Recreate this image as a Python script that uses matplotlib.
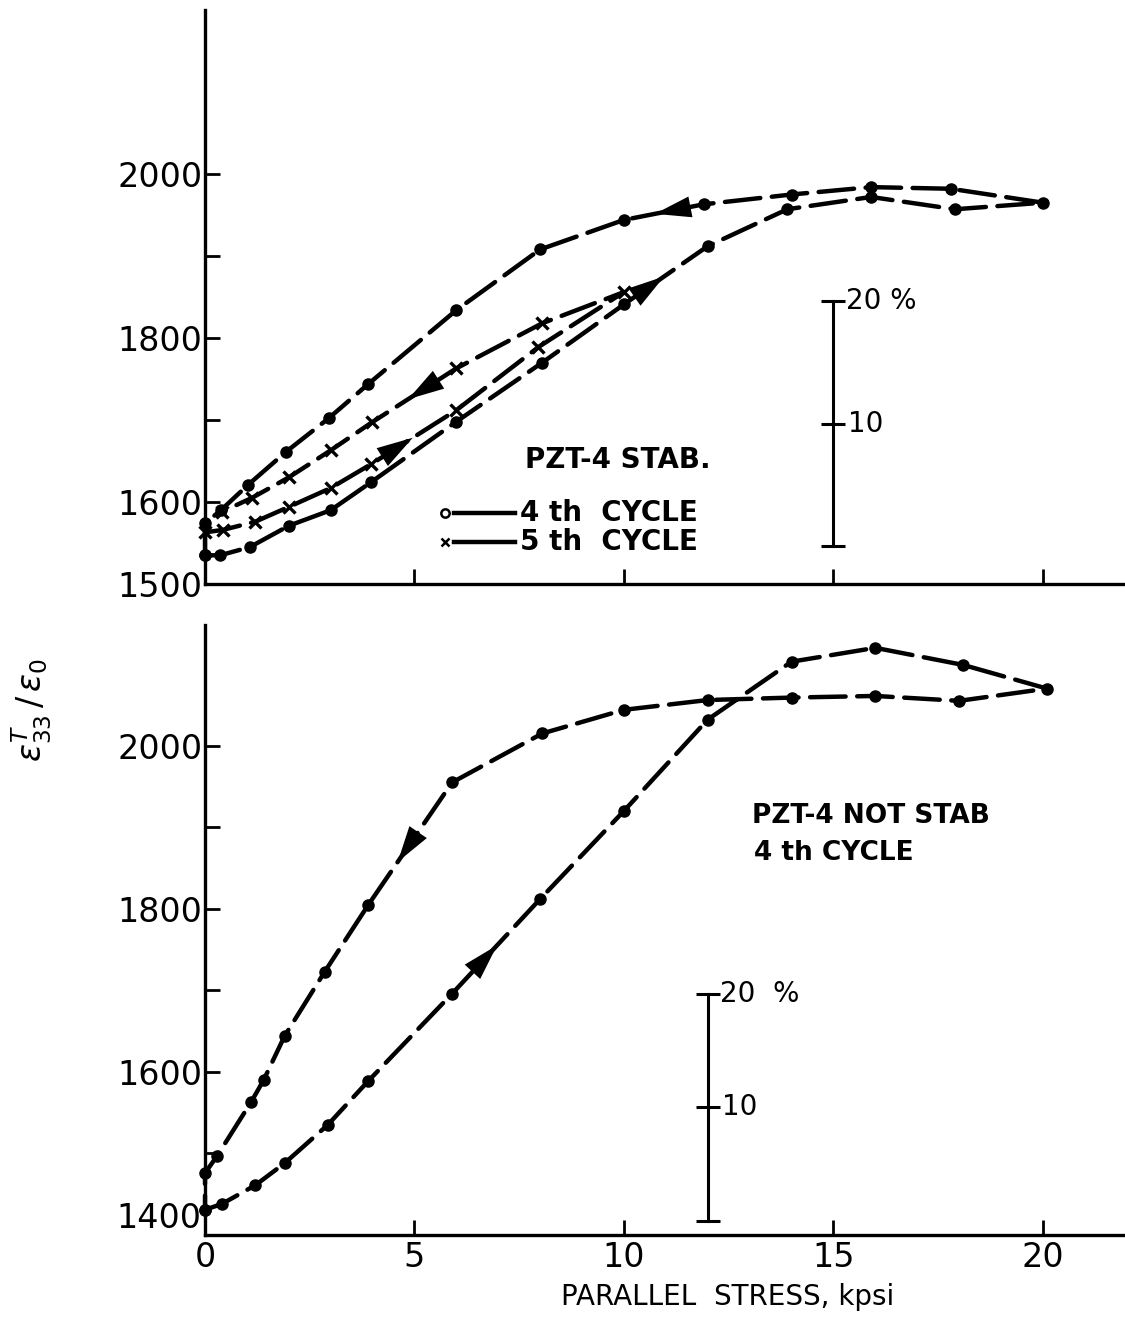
import matplotlib
matplotlib.use("Agg")
import matplotlib.pyplot as plt
import matplotlib.transforms as mtransforms

# ---- data (stress in kpsi, relative permittivity) ----
# upper panel, PZT-4 stabilised, 4th cycle (loading then unloading)
stab4_load_x = [0, 0.36, 1.07, 2.0, 3.0, 3.96, 6.0, 8.05, 10.0, 12.0, 13.9, 15.9, 17.9, 20.0]
stab4_load_y = [1535, 1535, 1545, 1571, 1590, 1624, 1698, 1770, 1841, 1912, 1957, 1972, 1957, 1965]
stab4_unload_x = [20.0, 17.8, 15.9, 14.0, 11.9, 10.0, 8.0, 6.0, 3.9, 2.95, 1.93, 1.03, 0.38, 0]
stab4_unload_y = [1965, 1982, 1984, 1975, 1963, 1944, 1908, 1834, 1744, 1702, 1661, 1621, 1590, 1574]

# upper panel, 5th cycle
stab5_load_x = [0, 0.43, 1.2, 2.0, 3.0, 3.96, 6.0, 7.96, 10.0]
stab5_load_y = [1563, 1566, 1576, 1594, 1617, 1646, 1712, 1789, 1856]
stab5_unload_x = [10.0, 8.05, 6.0, 3.98, 3.0, 2.0, 1.12, 0.4]
stab5_unload_y = [1856, 1818, 1763, 1697, 1663, 1630, 1605, 1588]

# lower panel, PZT-4 not stabilised, 4th cycle
nstab_load_x = [0, 0.4, 1.2, 1.9, 2.93, 3.9, 5.9, 8.0, 10.0, 12.0, 14.0, 16.0, 18.1, 20.1]
nstab_load_y = [1431, 1438, 1461, 1488, 1535, 1589, 1696, 1812, 1920, 2032, 2103, 2120, 2099, 2070]
nstab_unload_x = [20.1, 18.0, 16.0, 14.0, 12.0, 10.0, 8.05, 5.9, 3.9, 2.86, 1.9, 1.4, 1.1, 0.29, 0]
nstab_unload_y = [2070, 2055, 2061, 2059, 2056, 2044, 2015, 1955, 1805, 1723, 1644, 1590, 1563, 1497, 1476]

# 20 % scale bars: (x position, bottom, middle, top)
stab_bar = [15.0, 1546, 1695, 1845]
nstab_bar = [12.0, 1417, 1557, 1696]

x_ticks = [0, 5, 10, 15, 20]
stab_yticks = [1500, 1600, 1800, 2000]
stab_yminor = [1700, 1900]
nstab_yticks = [1400, 1600, 1800, 2000]
nstab_yminor = [1500, 1700, 1900]

W, H = 1125, 1320
fig = plt.figure(figsize=(W / 100, H / 100), dpi=100)
plt.rcParams["font.family"] = "DejaVu Sans"

ax1 = fig.add_axes([205 / W, 1 - 584 / H, 1 - 205 / W, (584 - 10) / H])
ax2 = fig.add_axes([205 / W, 1 - 1235 / H, 1 - 205 / W, (1235 - 625) / H])

LW = 3.2
DASH = (8, 2.6)


def style_axes(ax, ylim, major, minor, xlabels):
    ax.set_xlim(0, 21.96)
    ax.set_ylim(*ylim)
    for s in ("top", "right"):
        ax.spines[s].set_visible(False)
    for s in ("left", "bottom"):
        ax.spines[s].set_linewidth(2.4)
    ax.set_xticks(x_ticks)
    ax.set_yticks(major)
    ax.set_yticks(minor, minor=True)
    ax.tick_params(direction="in", length=11, width=2, labelsize=24, pad=2)
    ax.tick_params(which="minor", direction="in", length=11, width=2)
    ax.tick_params(axis="x", bottom=True, labelbottom=xlabels, pad=4)
    ax.patch.set_alpha(0)


def loop_line(ax, xs, ys, marker="o", ms=8, mew=1):
    ax.plot(xs, ys, color="k", lw=LW, dashes=DASH, marker=marker, ms=ms,
            mew=mew, mfc="k", mec="k", dash_capstyle="round", clip_on=False)


def arrow(ax, xs, ys, i, frac):
    # arrowhead on the segment between point i and i+1, pointing along the path
    x0 = xs[i] + frac * (xs[i + 1] - xs[i])
    y0 = ys[i] + frac * (ys[i + 1] - ys[i])
    x1 = x0 + 0.03 * (xs[i + 1] - xs[i])
    y1 = y0 + 0.03 * (ys[i + 1] - ys[i])
    ax.annotate("", xy=(x1, y1), xytext=(x0, y0),
                arrowprops=dict(arrowstyle="-|>,head_length=1.3,head_width=0.38",
                                mutation_scale=20, color="k", lw=0,
                                shrinkA=0, shrinkB=0))


def scale_bar(ax, bar, top_label):
    x, lo, mid, hi = bar
    ax.plot([x, x], [lo, hi], color="k", lw=2.2)
    ax.plot([x, x, x], [lo, mid, hi], ls="none", marker="_", ms=17, mew=2.2, color="k")
    ax.text(x + 0.3, hi, top_label, fontsize=20, ha="left", va="center")
    ax.text(x + 0.35, mid, "10", fontsize=20, ha="left", va="center")


# ---- upper panel ----
style_axes(ax1, (1500, 2200), stab_yticks, stab_yminor, False)
loop_line(ax1, stab4_load_x + stab4_unload_x[1:] + stab4_load_x[:1],
          stab4_load_y + stab4_unload_y[1:] + stab4_load_y[:1])
loop_line(ax1, stab5_load_x + stab5_unload_x[1:],
          stab5_load_y + stab5_unload_y[1:], marker="x", ms=8, mew=2.4)
arrow(ax1, stab4_load_x, stab4_load_y, 8, 0.45)
arrow(ax1, stab4_unload_x, stab4_unload_y, 4, 0.58)
arrow(ax1, stab5_load_x, stab5_load_y, 5, 0.46)
arrow(ax1, stab5_unload_x, stab5_unload_y, 2, 0.54)
scale_bar(ax1, stab_bar, "20 %")

ax1.text(7.64, 1651, "PZT-4 STAB.", fontsize=20, fontweight="bold", ha="left", va="center")
ax1.plot([5.73], [1587], marker="o", ms=6, mfc="white", mec="k", mew=1.8)
ax1.plot([5.95, 7.40], [1587, 1587], color="k", lw=LW)
ax1.plot([5.73], [1551], marker="x", ms=6, mec="k", mew=1.8)
ax1.plot([5.95, 7.40], [1551, 1551], color="k", lw=LW)
ax1.text(7.52, 1587, "4 th  CYCLE", fontsize=20, fontweight="bold", ha="left", va="center")
ax1.text(7.52, 1551, "5 th  CYCLE", fontsize=20, fontweight="bold", ha="left", va="center")

# ---- lower panel ----
style_axes(ax2, (1400, 2148), nstab_yticks, nstab_yminor, True)
# corner label "1400" sits above the x tick label "0"
ax2.set_yticklabels([""] + [str(v) for v in nstab_yticks[1:]])
corner = mtransforms.blended_transform_factory(ax2.transAxes, ax2.transData)
ax2.text(-0.004, nstab_yticks[0], str(nstab_yticks[0]), transform=corner,
         fontsize=24, ha="right", va="bottom")
loop_line(ax2, nstab_load_x + nstab_unload_x[1:] + nstab_load_x[:1],
          nstab_load_y + nstab_unload_y[1:] + nstab_load_y[:1])
arrow(ax2, nstab_load_x, nstab_load_y, 6, 0.48)
arrow(ax2, nstab_unload_x, nstab_unload_y, 7, 0.62)
scale_bar(ax2, nstab_bar, "20  %")

ax2.text(13.05, 1914, "PZT-4 NOT STAB", fontsize=19, fontweight="bold", ha="left", va="center")
ax2.text(13.1, 1869, "4 th CYCLE", fontsize=19, fontweight="bold", ha="left", va="center")

fig.text(728 / W, 1 - 1297 / H, "PARALLEL  STRESS, kpsi", fontsize=20,
         ha="center", va="center")
fig.text(32 / W, 1 - 710 / H, r"$\epsilon^{T}_{33}\,/\,\epsilon_0$", fontsize=24,
         rotation=90, ha="center", va="center")

fig.savefig("out.png", dpi=100)
